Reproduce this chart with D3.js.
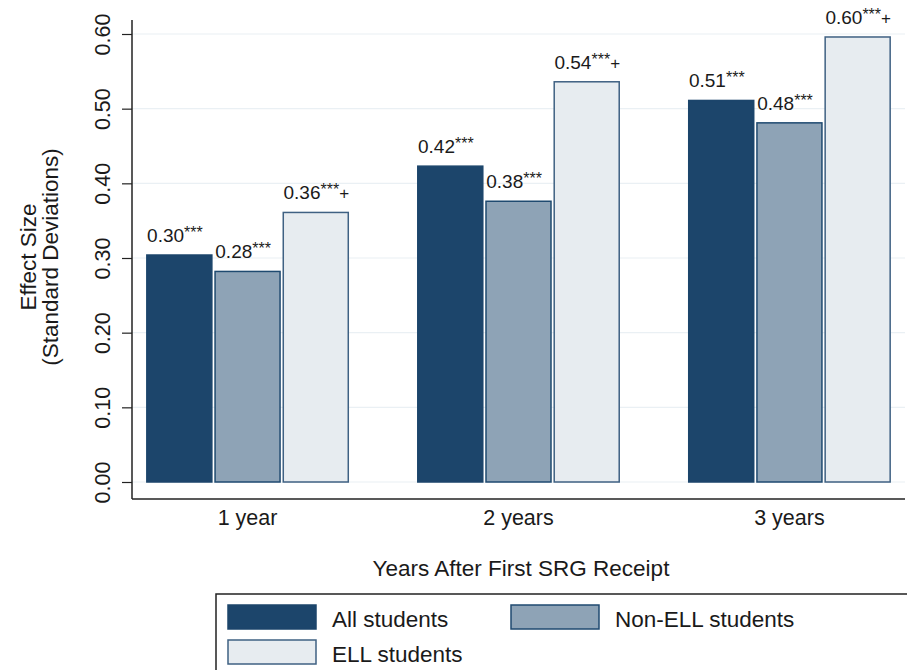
<!DOCTYPE html>
<html>
<head>
<meta charset="utf-8">
<script src="https://cdn.jsdelivr.net/npm/d3@7"></script>
<style>
  html, body { margin: 0; padding: 0; background: #ffffff; }
  svg { display: block; font-family: "Liberation Sans", Arial, sans-serif; }
</style>
</head>
<body>
<svg id="chart" width="907" height="670"></svg>
<script>
// Effect sizes by years after first SRG receipt
const groups = ["1 year", "2 years", "3 years"];
const seriesNames = ["All students", "Non-ELL students", "ELL students"];
const allStudents = [0.304, 0.423, 0.511];
const nonEll = [0.282, 0.376, 0.481];
const ell = [0.361, 0.536, 0.596];
const stars = [["***", "***", "***+"], ["***", "***", "***+"], ["***", "***", "***+"]]; // [group][series]
const yTicks = [0, 0.1, 0.2, 0.3, 0.4, 0.5, 0.6];

const fills = ["#1c456b", "#8ea3b6", "#e7ecf0"];
const strokes = ["#1c456b", "#1f4a70", "#3f6183"];
const ink = "#1a1a1a";

const svg = d3.select("#chart");

const x0 = 132, x1 = 905, yTop = 20, yBase = 499;

const y = d3.scaleLinear().domain([0, 0.6]).range([482, 34]);
const xg = d3.scaleBand().domain(groups).range([x0, x1]).paddingInner(0.251).paddingOuter(0.052);
const xs = d3.scaleBand().domain(seriesNames).range([0, xg.bandwidth()]).paddingInner(0.025);

// gridlines
svg.append("g").selectAll("line").data(yTicks).join("line")
  .attr("x1", x0).attr("x2", x1)
  .attr("y1", d => y(d)).attr("y2", d => y(d))
  .attr("stroke", "#eaf0f4").attr("stroke-width", 1.2);

// bars with value labels
const valueRows = groups.map((g, i) => [allStudents[i], nonEll[i], ell[i]]);
const gGroups = svg.append("g").selectAll("g").data(groups).join("g")
  .attr("transform", d => `translate(${xg(d)},0)`);

gGroups.each(function(g, gi) {
  const sel = d3.select(this);
  valueRows[gi].forEach((v, si) => {
    const name = seriesNames[si];
    sel.append("rect")
      .attr("x", xs(name) + 0.75)
      .attr("y", y(v))
      .attr("width", xs.bandwidth() - 1.5)
      .attr("height", y(0) - y(v))
      .attr("fill", fills[si])
      .attr("stroke", strokes[si])
      .attr("stroke-width", 1.5);
    const t = sel.append("text")
      .attr("x", xs(name) + 1)
      .attr("y", y(v) - 13)
      .attr("font-size", 19)
      .attr("fill", ink);
    t.append("tspan").text(v.toFixed(2));
    const s = stars[gi][si];
    t.append("tspan").attr("font-size", 16).attr("dy", -4).text(s.replace("+", ""));
    if (s.includes("+")) t.append("tspan").attr("font-size", 17).attr("dy", 4).text("+");
  });
});

// axis lines
svg.append("line").attr("x1", x0).attr("x2", x0).attr("y1", yTop).attr("y2", yBase)
  .attr("stroke", "#222").attr("stroke-width", 1.5);
svg.append("line").attr("x1", x0).attr("x2", x1).attr("y1", yBase).attr("y2", yBase)
  .attr("stroke", "#222").attr("stroke-width", 1.5);

// y axis ticks with rotated labels
const yAxis = svg.append("g").attr("transform", `translate(${x0},0)`)
  .call(d3.axisLeft(y).tickValues(yTicks).tickFormat(d3.format(".2f")).tickSize(10).tickSizeOuter(0));
yAxis.select(".domain").remove();
yAxis.selectAll(".tick line").attr("stroke", "#222").attr("stroke-width", 1.2);
yAxis.selectAll(".tick text")
  .attr("font-family", "Liberation Sans, Arial, sans-serif")
  .attr("font-size", 21.5).attr("fill", ink)
  .attr("transform", "rotate(-90)")
  .attr("x", 0).attr("y", -22).attr("dy", 0)
  .attr("text-anchor", "middle");

// x group labels
svg.append("g").selectAll("text").data(groups).join("text")
  .attr("x", d => xg(d) + xg.bandwidth() / 2)
  .attr("y", 525)
  .attr("text-anchor", "middle")
  .attr("font-size", 21.5).attr("fill", ink)
  .text(d => d);

// axis titles
svg.append("text").attr("x", 521).attr("y", 576).attr("text-anchor", "middle")
  .attr("font-size", 22.5).attr("fill", ink).text("Years After First SRG Receipt");
const yt = svg.append("text").attr("transform", "translate(0,257) rotate(-90)")
  .attr("text-anchor", "middle").attr("font-size", 22.5).attr("fill", ink);
yt.append("tspan").attr("x", 0).attr("y", 36).text("Effect Size");
yt.append("tspan").attr("x", 0).attr("y", 58).text("(Standard Deviations)");

// legend
const lg = svg.append("g");
lg.append("rect").attr("x", 216).attr("y", 594).attr("width", 700).attr("height", 100)
  .attr("fill", "#fff").attr("stroke", "#222").attr("stroke-width", 1.5);
const legendPos = [[228, 605], [511, 605], [228, 640]];
seriesNames.forEach((name, i) => {
  const [lx, ly] = legendPos[i];
  lg.append("rect").attr("x", lx).attr("y", ly).attr("width", 88).attr("height", 24)
    .attr("fill", fills[i]).attr("stroke", strokes[i]).attr("stroke-width", 1.5);
  lg.append("text").attr("x", lx + 104).attr("y", ly + 22)
    .attr("font-size", 22.5).attr("fill", ink).text(name);
});
</script>
</body>
</html>
